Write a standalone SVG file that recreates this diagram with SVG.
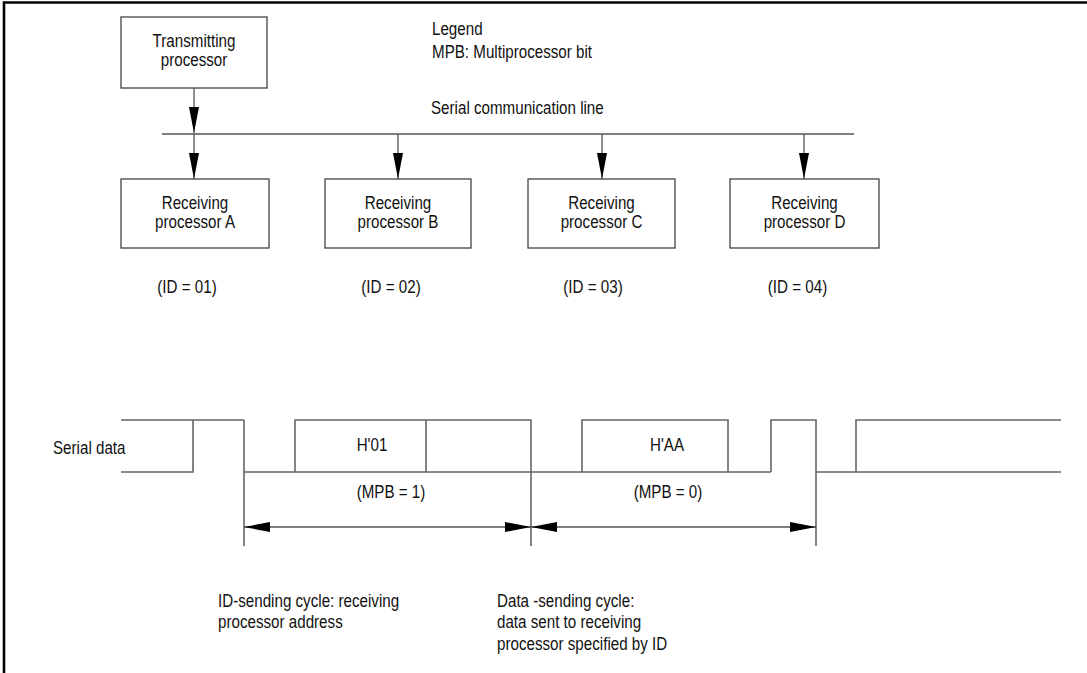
<svg xmlns="http://www.w3.org/2000/svg" width="1087" height="673" viewBox="0 0 1087 673">
<style>
text{font-family:"Liberation Sans","Arial",sans-serif;font-size:18.5px;fill:#111}
.c{text-anchor:middle}
.box{fill:#fff;stroke:#444;stroke-width:1.3}
.ln{fill:none;stroke:#555;stroke-width:1.3}
.wv{fill:none;stroke:#666;stroke-width:1.6}
.frame{fill:none;stroke:#000;stroke-width:2.6}
</style>
<defs>
<marker id="ah" viewBox="0 0 26 10" refX="26" refY="5" markerWidth="26" markerHeight="10" markerUnits="userSpaceOnUse" orient="auto-start-reverse">
<path d="M0,0 L26,5 L0,10 Z" fill="#000"/>
</marker>
</defs>
<path class="frame" d="M4,673 V2.5 H1087"/>
<g id="legend">
<text transform="translate(432,35) scale(0.82,1)">Legend</text>
<text transform="translate(432,58) scale(0.82,1)">MPB: Multiprocessor bit</text>
</g>
<g id="connectors">
<line class="ln" x1="162" y1="134" x2="854" y2="134"/>
<text transform="translate(431,114) scale(0.82,1)">Serial communication line</text>
<line class="ln" x1="194" y1="88" x2="194" y2="133" marker-end="url(#ah)"/>
<line class="ln" x1="194" y1="134" x2="194" y2="179" marker-end="url(#ah)"/>
<line class="ln" x1="398" y1="134" x2="398" y2="179" marker-end="url(#ah)"/>
<line class="ln" x1="602" y1="134" x2="602" y2="179" marker-end="url(#ah)"/>
<line class="ln" x1="804" y1="134" x2="804" y2="179" marker-end="url(#ah)"/>
</g>
<g id="tx">
<rect class="box" x="121" y="17" width="146" height="71"/>
<text class="c" transform="translate(194,47) scale(0.82,1)">Transmitting</text>
<text class="c" transform="translate(194,66) scale(0.82,1)">processor</text>
</g>
<g id="rxA">
<rect class="box" x="121" y="179" width="148" height="69"/>
<text class="c" transform="translate(195,209) scale(0.82,1)">Receiving</text>
<text class="c" transform="translate(195,228) scale(0.82,1)">processor A</text>
<text class="c" transform="translate(187,293) scale(0.82,1)">(ID = 01)</text>
</g>
<g id="rxB">
<rect class="box" x="325" y="179" width="146" height="69"/>
<text class="c" transform="translate(398,209) scale(0.82,1)">Receiving</text>
<text class="c" transform="translate(398,228) scale(0.82,1)">processor B</text>
<text class="c" transform="translate(391,293) scale(0.82,1)">(ID = 02)</text>
</g>
<g id="rxC">
<rect class="box" x="528" y="179" width="147" height="69"/>
<text class="c" transform="translate(601.5,209) scale(0.82,1)">Receiving</text>
<text class="c" transform="translate(601.5,228) scale(0.82,1)">processor C</text>
<text class="c" transform="translate(593,293) scale(0.82,1)">(ID = 03)</text>
</g>
<g id="rxD">
<rect class="box" x="730" y="179" width="149" height="69"/>
<text class="c" transform="translate(804.5,209) scale(0.82,1)">Receiving</text>
<text class="c" transform="translate(804.5,228) scale(0.82,1)">processor D</text>
<text class="c" transform="translate(797.5,293) scale(0.82,1)">(ID = 04)</text>
</g>
<g id="waveform">
<text transform="translate(53,454) scale(0.82,1)">Serial data</text>
<path class="wv" d="M121,420 H244 M121,472 H193 V420 M244,420 V546 M244,472 H771 M295,472 V420 H531 V546 M426,420 V472 M582,472 V420 H728 V472 M771,472 V420 H816 V546 M816,472 H1061 M856,472 V420 H1061"/>
<text class="c" transform="translate(372,451) scale(0.82,1)">H'01</text>
<text class="c" transform="translate(667,451) scale(0.82,1)">H'AA</text>
</g>
<g id="dims">
<line class="ln" x1="244" y1="527" x2="531" y2="527" marker-start="url(#ah)" marker-end="url(#ah)"/>
<line class="ln" x1="531" y1="527" x2="816" y2="527" marker-start="url(#ah)" marker-end="url(#ah)"/>
<text class="c" transform="translate(391,498) scale(0.82,1)">(MPB = 1)</text>
<text class="c" transform="translate(668,498) scale(0.82,1)">(MPB = 0)</text>
</g>
<g id="notes">
<text transform="translate(218,607) scale(0.82,1)">ID-sending cycle: receiving</text>
<text transform="translate(218,628) scale(0.82,1)">processor address</text>
<text transform="translate(497,607) scale(0.82,1)">Data -sending cycle:</text>
<text transform="translate(497,628) scale(0.82,1)">data sent to receiving</text>
<text transform="translate(497,650) scale(0.82,1)">processor specified by ID</text>
</g>
</svg>
